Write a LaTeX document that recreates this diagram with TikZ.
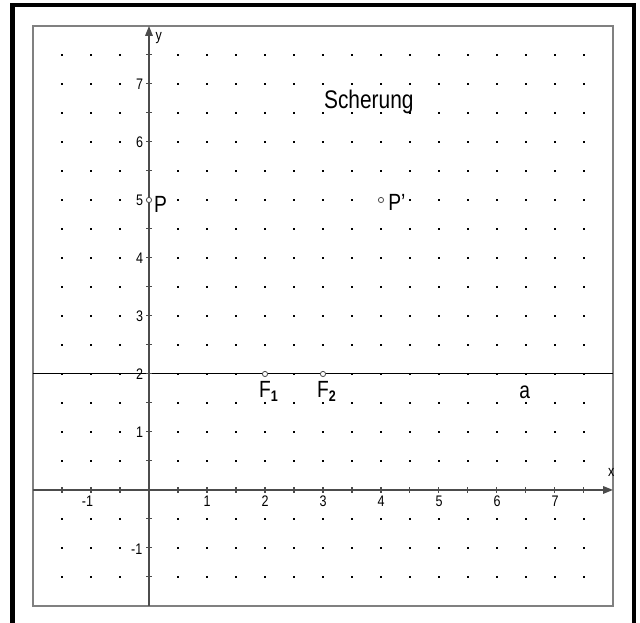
\documentclass[tikz,border=0pt]{standalone}
\usepackage{fontspec}
\setmainfont[FakeStretch=0.82]{Liberation Sans}
\usetikzlibrary{arrows.meta}
\begin{document}
\begin{tikzpicture}[x=1cm,y=1cm,
  frame/.style={line width=2pt,black},
  inner/.style={line width=0.6pt,gray},
  axis/.style={line width=0.6pt,black!70,-{Triangle[length=0.17cm,width=0.13cm]}},
  tick/.style={line width=0.5pt,black!70},
  pt/.style={draw=black!70,fill=white,line width=0.4pt,circle,inner sep=0pt,minimum size=0.09cm},
  num/.style={font=\fontsize{7.5}{8}\selectfont,inner sep=0pt},
  lbl/.style={font=\fontsize{11.5}{13}\selectfont,inner sep=0pt}]
\useasboundingbox (-2.569,-2.293) rectangle (8.466,8.448);
% outer frame
\draw[frame] (-2.354,-2.5) -- (-2.354,8.362) -- (8.37,8.362) -- (8.37,-2.5);
% inner frame
\draw[inner] (-2,-2) rectangle (8,8);
% grid dots
\foreach \i in {-3,...,15} {
  \foreach \j in {-3,...,15} {
    \fill[black] ([xshift=-0.45pt,yshift=-0.45pt]\i*0.5,\j*0.5) rectangle ++(0.9pt,0.9pt);
  }
}
% line a
\draw[line width=0.5pt] (-2,2) -- (8,2);
% axes
\coordinate (xs) at (-2,0);
\coordinate (xe) at (8,0);
\coordinate (ys) at (0,-2);
\coordinate (ye) at (0,8);
\draw[axis] (xs) -- (xe);
\draw[axis] (ys) -- (ye);
\foreach \i in {-3,...,15} {
  \draw[tick] (\i*0.5,-0.05) -- (\i*0.5,0.05);
  \draw[tick] (-0.05,\i*0.5) -- (0.05,\i*0.5);
}
\node[num] (xl) at (7.97,0.3) {x};
\node[num] (yl) at (0.17,7.8) {y};
\foreach \k in {1,...,7} {
  \node[num] (xn\k) at (\k,-0.2) {\k};
  \node[num] (yn\k) at (-0.16,\k) {\k};
}
\node[num] (xnm) at (-1.06,-0.2) {-1};
\node[num] (ynm) at (-0.21,-1.02) {-1};
% points
\node[pt] (P) at (0,5) {};
\node[pt] (Pp) at (4,5) {};
\node[pt] (F1) at (2,2) {};
\node[pt] (F2) at (3,2) {};
\node[lbl,anchor=west] (Pl) at (0.08,4.93) {P};
\node[lbl,anchor=west] (Ppl) at (4.12,4.95) {P'};
\node[lbl] (F1l) at (2.06,1.7) {F\raisebox{-0.35ex}{\fontsize{7.5}{8}\selectfont\bfseries 1}};
\node[lbl] (F2l) at (3.06,1.7) {F\raisebox{-0.35ex}{\fontsize{7.5}{8}\selectfont\bfseries 2}};
\node[lbl] (al) at (6.48,1.68) {a};
\node[font=\fontsize{12.5}{14}\selectfont,inner sep=0pt] (title) at (3.79,6.69) {Scherung};
\end{tikzpicture}
\end{document}
